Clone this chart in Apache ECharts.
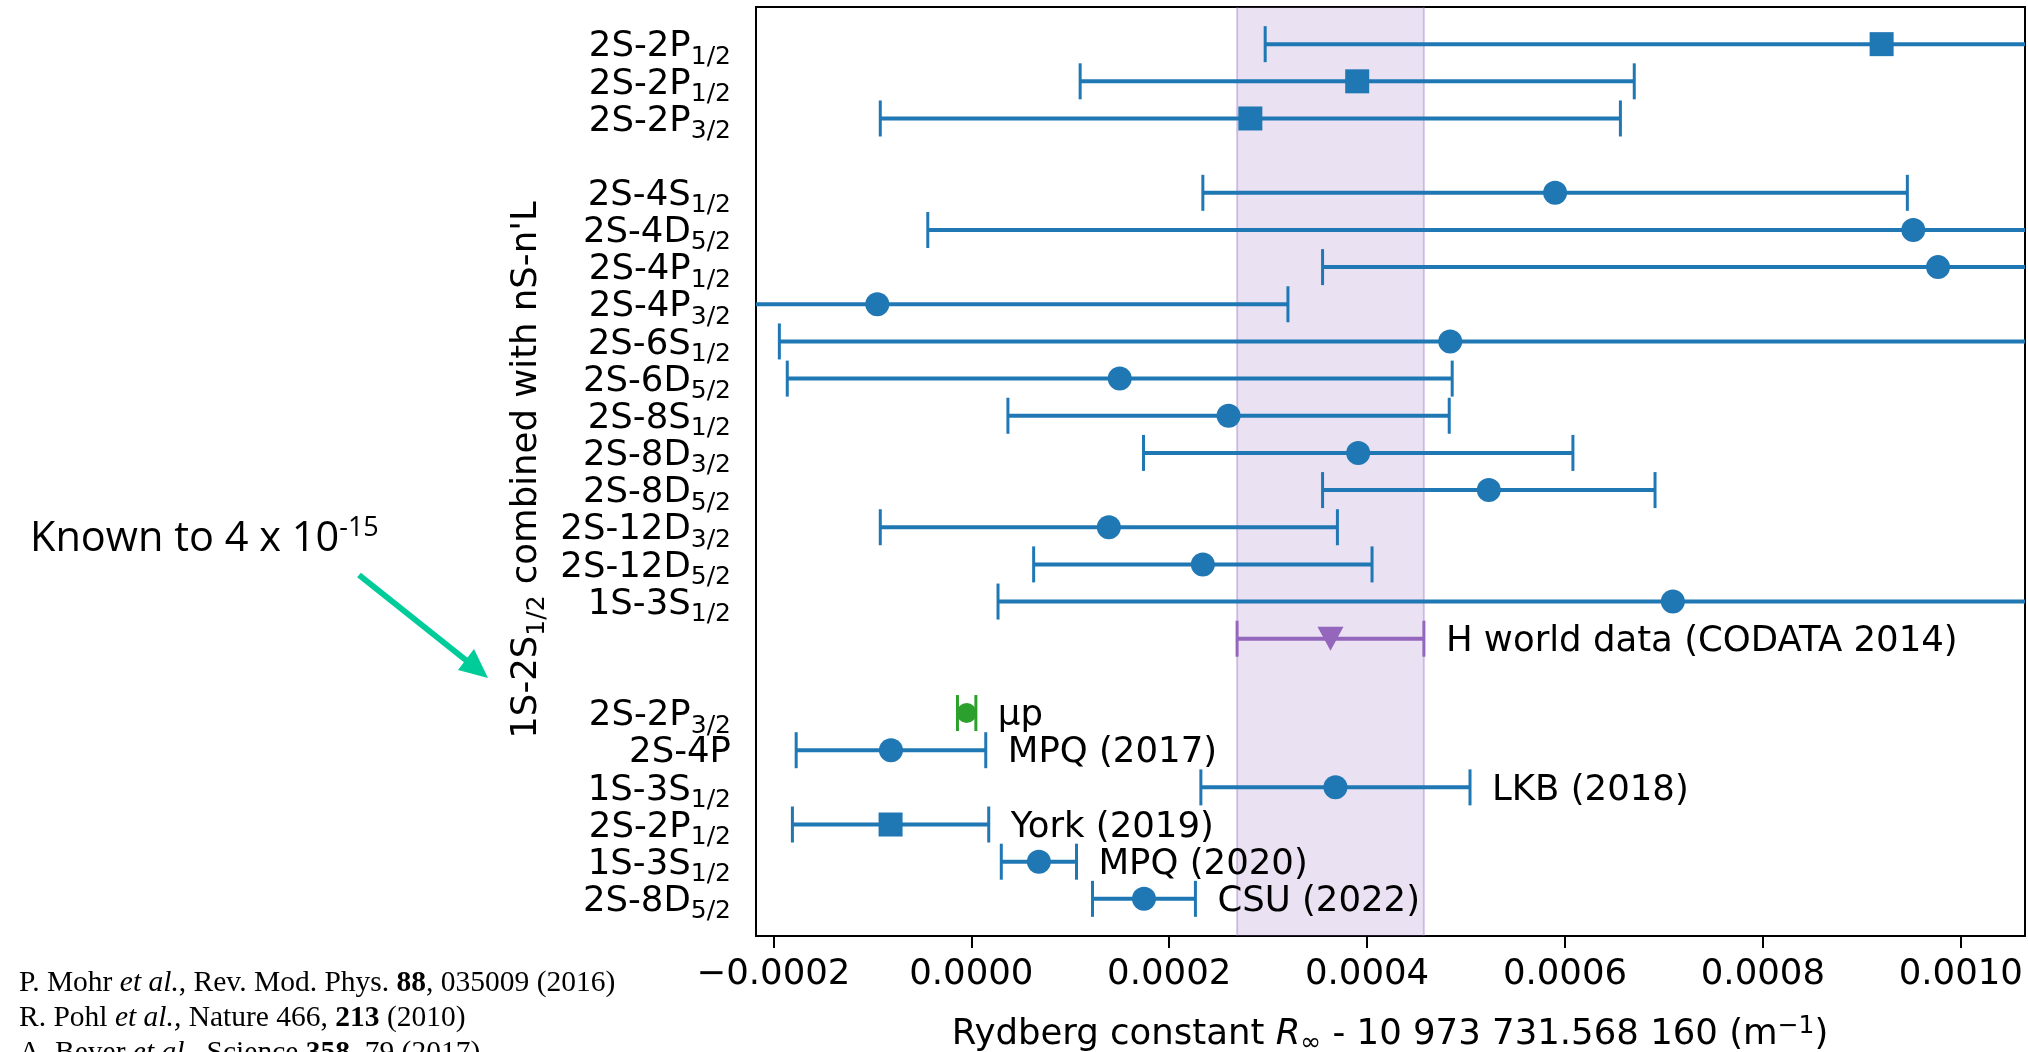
<!DOCTYPE html>
<html><head><meta charset="utf-8">
<script src="https://cdn.jsdelivr.net/npm/echarts@6/dist/echarts.min.js"></script>
<style>html,body{margin:0;padding:0;background:#fff}#c{width:2028px;height:1052px}</style>
</head><body><div id="c"></div>
<script>
// ---------- data ----------
// rows from top (0) to bottom (23); '' marks empty spacer rows / unlabeled rows
const transitions = ['2S-2P','2S-2P','2S-2P','','2S-4S','2S-4D','2S-4P','2S-4P','2S-6S','2S-6D','2S-8S','2S-8D','2S-8D','2S-12D','2S-12D','1S-3S','','','2S-2P','2S-4P','1S-3S','2S-2P','1S-3S','2S-8D'];
const subscripts  = ['1/2','1/2','3/2','','1/2','5/2','1/2','3/2','1/2','5/2','1/2','3/2','5/2','3/2','5/2','1/2','','','3/2','','1/2','1/2','1/2','5/2'];
// value of R_inf - 10 973 731.568 160 (m^-1) and 1-sigma uncertainty
const values = [0.000920, 0.000390, 0.000282, null, 0.000590, 0.000952, 0.000977, -0.000095, 0.000484, 0.000150, 0.000260, 0.000391, 0.000523, 0.000139, 0.000234, 0.000709, 0.000363, null, -0.0000047, -0.0000812, 0.000368, -0.0000816, 0.0000683, 0.0001745];
const errors = [0.000623, 0.000280, 0.000374, null, 0.000356, 0.000996, 0.000622, 0.000415, 0.000678, 0.000336, 0.000223, 0.000217, 0.000168, 0.000231, 0.000171, 0.000682, 0.0000944, null, 0.0000093, 0.0000958, 0.000136, 0.0000992, 0.000038, 0.000052];
const squareRows = [0, 1, 2, 21];
const worldDataRow = 16;
const muonicRow = 18;
const labelRows  = [16, 18, 19, 20, 21, 22, 23];
const labelTexts = ['H world data (CODATA 2014)', 'μp', 'MPQ (2017)', 'LKB (2018)', 'York (2019)', 'MPQ (2020)', 'CSU (2022)'];
const xTicks = [-0.0002, 0.0000, 0.0002, 0.0004, 0.0006, 0.0008, 0.0010];
const xRange = [-0.0002176, 0.0010649];
const yRange = [-1, 24];

// ---------- styling ----------
const BLUE = '#1f77b4', PURPLE = '#9467bd', GREEN = '#2ca02c';
const FONT = 'DejaVu Sans';
const FS = 35.5, FSS = 25;
function rowColor(r) { return r === worldDataRow ? PURPLE : (r === muonicRow ? GREEN : BLUE); }

const rows = values.map((v, i) => i).filter(i => values[i] !== null);
const barData = rows.map(i => [values[i], i, errors[i]]);
const circleData = rows.filter(i => squareRows.indexOf(i) < 0 && i !== worldDataRow && i !== muonicRow).map(i => [values[i], i]);
const squareData = squareRows.map(i => [values[i], i]);
const labelData = labelRows.map((r, k) => [values[r], r, errors[r], k]);
const tickLabelData = rows.filter(i => transitions[i] !== '').map(i => [xRange[0], i]);

const chart = echarts.init(document.getElementById('c'), null, {renderer: 'canvas'});

const serifRich = {
  n: {fontFamily: 'Liberation Serif', fontSize: 29.5, fill: '#000'},
  i: {fontFamily: 'Liberation Serif', fontSize: 29.5, fontStyle: 'italic', fill: '#000'},
  b: {fontFamily: 'Liberation Serif', fontSize: 29.5, fontWeight: 'bold', fill: '#000'}
};
const subRich = {
  m: {fontFamily: FONT, fontSize: FS, fill: '#000', lineHeight: 42},
  s: {fontFamily: FONT, fontSize: FSS, fill: '#000', padding: [20, 0, 0, 0]}
};

const option = {
  animation: false,
  backgroundColor: '#fff',
  grid: {left: 756, top: 7, width: 1269, height: 929, show: true, borderColor: '#000', borderWidth: 2, backgroundColor: 'transparent'},
  xAxis: {
    type: 'value', min: xRange[0], max: xRange[1],
    axisLine: {show: true, onZero: false, lineStyle: {color: '#000', width: 2}},
    axisTick: {show: true, customValues: xTicks, length: 12, lineStyle: {color: '#000', width: 2}},
    axisLabel: {show: true, customValues: xTicks, margin: 21, color: '#000', fontFamily: FONT, fontSize: FS,
      formatter: v => (v < 0 ? '\u2212' : '') + Math.abs(v).toFixed(4)},
    splitLine: {show: false}
  },
  yAxis: {
    type: 'value', inverse: true, min: yRange[0], max: yRange[1],
    axisLine: {show: false, onZero: false}, axisTick: {show: false}, splitLine: {show: false},
    axisLabel: {show: false}
  },
  series: [
    { // CODATA band
      type: 'custom', z: 1, silent: true,
      data: [[values[worldDataRow], errors[worldDataRow]]],
      encode: {x: 0},
      renderItem: (params, api) => {
        const v = api.value(0), e = api.value(1);
        const a = api.coord([v - e, 0])[0], b = api.coord([v + e, 0])[0];
        const cs = params.coordSys;
        return {type: 'group', children: [
          {type: 'rect', shape: {x: a, y: cs.y, width: b - a, height: cs.height}, style: {fill: 'rgba(148,103,189,0.2)'}},
          {type: 'line', shape: {x1: a, y1: cs.y, x2: a, y2: cs.y + cs.height}, style: {stroke: 'rgba(148,103,189,0.35)', lineWidth: 2}},
          {type: 'line', shape: {x1: b, y1: cs.y, x2: b, y2: cs.y + cs.height}, style: {stroke: 'rgba(148,103,189,0.35)', lineWidth: 2}}
        ]};
      }
    },
    { // error bars
      type: 'custom', z: 2, clip: true, silent: true,
      data: barData, encode: {x: 0, y: 1},
      renderItem: (params, api) => {
        const v = api.value(0), r = api.value(1), e = api.value(2);
        const lo = api.coord([v - e, r]), hi = api.coord([v + e, r]);
        const c = rowColor(r), cap = 18;
        return {type: 'group', children: [
          {type: 'line', shape: {x1: lo[0], y1: lo[1], x2: hi[0], y2: hi[1]}, style: {stroke: c, lineWidth: 4}},
          {type: 'line', shape: {x1: lo[0], y1: lo[1] - cap, x2: lo[0], y2: lo[1] + cap}, style: {stroke: c, lineWidth: 3}},
          {type: 'line', shape: {x1: hi[0], y1: hi[1] - cap, x2: hi[0], y2: hi[1] + cap}, style: {stroke: c, lineWidth: 3}}
        ]};
      }
    },
    {type: 'scatter', z: 3, clip: true, silent: true, data: circleData, symbol: 'circle', symbolSize: 24, itemStyle: {color: BLUE, opacity: 1}},
    {type: 'scatter', z: 3, clip: true, silent: true, data: squareData, symbol: 'rect', symbolSize: 24, itemStyle: {color: BLUE, opacity: 1}},
    {type: 'scatter', z: 3, clip: true, silent: true, data: [[values[worldDataRow], worldDataRow]], symbol: 'triangle', symbolRotate: 180, symbolSize: [26, 24], itemStyle: {color: PURPLE, opacity: 1}},
    {type: 'scatter', z: 3, clip: true, silent: true, data: [[values[muonicRow], muonicRow]], symbol: 'circle', symbolSize: 20, itemStyle: {color: GREEN, opacity: 1}},
    { // right-hand labels
      type: 'custom', z: 4, silent: true,
      data: labelData, encode: {x: 0, y: 1},
      renderItem: (params, api) => {
        const v = api.value(0), r = api.value(1), e = api.value(2), k = api.value(3);
        const hi = api.coord([v + e, r]);
        return {type: 'text', x: hi[0] + 22, y: hi[1] + 3, style: {text: labelTexts[k], fill: '#000', fontFamily: FONT, fontSize: FS, align: 'left', verticalAlign: 'middle'}};
      }
    },
    { // y tick labels (transition names with subscripts)
      type: 'custom', z: 4, silent: true,
      data: tickLabelData, encode: {x: 0, y: 1},
      renderItem: (params, api) => {
        const r = api.value(1);
        const p = api.coord([api.value(0), r]);
        const txt = subscripts[r] ? '{m|' + transitions[r] + '}{s|' + subscripts[r] + '}' : '{m|' + transitions[r] + '}';
        return {type: 'text', x: p[0] - 25, y: p[1] + 3, style: {text: txt, rich: subRich, align: 'right', verticalAlign: 'middle'}};
      }
    }
  ],
  graphic: [
    { // x-axis title
      type: 'text', x: 1390, y: 1035, silent: true,
      style: {
        text: '{n|Rydberg constant }{i|R}{s|\u221e}{n| - 10 973 731.568 160 (m}{p|\u22121}{n|)}',
        align: 'center', verticalAlign: 'middle',
        rich: {
          n: {fontFamily: FONT, fontSize: FS, fill: '#000', lineHeight: 42},
          i: {fontFamily: FONT, fontSize: FS, fontStyle: 'italic', fill: '#000', lineHeight: 42},
          s: {fontFamily: FONT, fontSize: FSS, fill: '#000', padding: [16, 0, 0, 0]},
          p: {fontFamily: FONT, fontSize: FSS, fill: '#000', padding: [0, 0, 18, 0]}
        }
      }
    },
    { // y-axis title
      type: 'text', x: 527, y: 470, rotation: Math.PI / 2, silent: true,
      style: {
        text: '{m|1S-2S}{s|1/2}{m| combined with nS-n\'L}',
        align: 'center', verticalAlign: 'middle',
        rich: subRich
      }
    },
    { // annotation
      type: 'text', x: 30, y: 539, silent: true,
      style: {
        text: '{a|Known to 4 x 10}{b|-15}',
        align: 'left', verticalAlign: 'middle',
        rich: {
          a: {fontFamily: 'Open Sans', fontSize: 41.5, fill: '#000', lineHeight: 50},
          b: {fontFamily: 'Open Sans', fontSize: 27, fill: '#000', padding: [0, 0, 22, 0]}
        }
      }
    },
    { // arrow shaft
      type: 'line', silent: true,
      shape: {x1: 359, y1: 575, x2: 472, y2: 665},
      style: {stroke: '#00CC99', lineWidth: 6}
    },
    { // arrow head
      type: 'polygon', silent: true,
      shape: {points: [[488, 678], [458, 670], [474, 649]]},
      style: {fill: '#00CC99'}
    },
    {
      type: 'text', x: 19, y: 983, silent: true,
      style: {text: '{n|P. Mohr }{i|et al.}{n|, Rev. Mod. Phys. }{b|88}{n|, 035009 (2016)}', align: 'left', verticalAlign: 'middle', rich: serifRich}
    },
    {
      type: 'text', x: 19, y: 1018, silent: true,
      style: {text: '{n|R. Pohl }{i|et al.,}{n| Nature 466, }{b|213}{n| (2010)}', align: 'left', verticalAlign: 'middle', rich: serifRich}
    },
    {
      type: 'text', x: 19, y: 1053, silent: true,
      style: {text: '{n|A. Beyer }{i|et al.,}{n| Science }{b|358}{n|, 79 (2017)}', align: 'left', verticalAlign: 'middle', rich: serifRich}
    }
  ]
};
chart.setOption(option);
</script></body></html>
